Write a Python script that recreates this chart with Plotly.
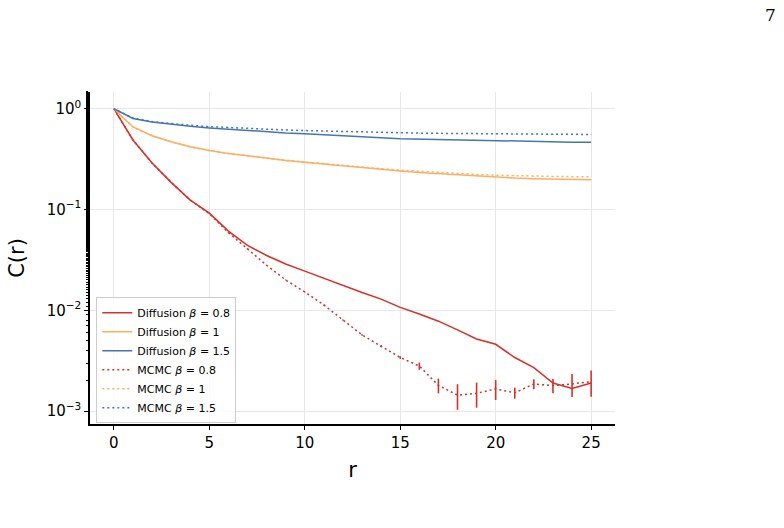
import plotly.graph_objects as go

r = list(range(26))

diff_b08 = [1.0, 0.49, 0.29, 0.186, 0.124, 0.092, 0.061, 0.044, 0.035, 0.0288, 0.0245,
            0.0207, 0.0175, 0.015, 0.0129, 0.0107, 0.0092, 0.0078, 0.0064, 0.0052, 0.0046,
            0.0034, 0.0027, 0.0019, 0.00168, 0.0019]
diff_b1 = [1.0, 0.66, 0.54, 0.47, 0.42, 0.385, 0.36, 0.34, 0.322, 0.307, 0.294, 0.282,
           0.27, 0.26, 0.25, 0.241, 0.233, 0.227, 0.22, 0.214, 0.208, 0.205, 0.202, 0.2,
           0.198, 0.197]
diff_b15 = [1.0, 0.80, 0.74, 0.70, 0.67, 0.645, 0.625, 0.605, 0.59, 0.575, 0.565, 0.55,
            0.54, 0.53, 0.515, 0.505, 0.50, 0.495, 0.49, 0.483, 0.478, 0.474, 0.47, 0.468,
            0.466, 0.464]

mcmc_b08 = [1.0, 0.49, 0.29, 0.186, 0.124, 0.091, 0.059, 0.041, 0.028, 0.020, 0.0152,
            0.0113, 0.008, 0.0057, 0.0044, 0.0034, 0.0028, 0.0018, 0.00144, 0.0015, 0.00166,
            0.00152, 0.00186, 0.00179, 0.00186, 0.00196]
mcmc_b08_err = [0.0, 0.002, 0.0015, 0.001, 0.0008, 0.0006, 0.0005, 0.0004, 0.0003, 0.0002,
                0.00015, 0.00012, 0.0001, 0.0001, 0.0001, 0.0001, 0.00023, 0.0003, 0.00041,
                0.00042, 0.00037, 0.00019, 0.00021, 0.00029, 0.00048, 0.00057]
mcmc_b1 = [1.0, 0.66, 0.54, 0.47, 0.42, 0.385, 0.36, 0.34, 0.323, 0.308, 0.296, 0.284,
           0.273, 0.263, 0.254, 0.246, 0.239, 0.233, 0.228, 0.223, 0.219, 0.216, 0.214,
           0.213, 0.212, 0.211]
mcmc_b1_err = [0.0] + [0.001] * 25
mcmc_b15 = [1.0, 0.81, 0.745, 0.71, 0.685, 0.665, 0.65, 0.635, 0.625, 0.615, 0.607, 0.60,
            0.593, 0.587, 0.582, 0.577, 0.573, 0.57, 0.567, 0.564, 0.562, 0.56, 0.559,
            0.558, 0.557, 0.556]
mcmc_b15_err = [0.0] + [0.002] * 25

x_ticks = [0, 5, 10, 15, 20, 25]
y_tickvals = [1e-3, 1e-2, 1e-1, 1.0]
y_ticktext = ["10<sup>\u22123</sup>", "10<sup>\u22122</sup>", "10<sup>\u22121</sup>", "10<sup>0</sup>"]

RED, ORANGE, BLUE = "#d73027", "#fdae61", "#4575b4"
FONT = "DejaVu Sans"

fig = go.Figure()
for name, ys, col in [("Diffusion <i>\u03b2</i> = 0.8", diff_b08, RED),
                      ("Diffusion <i>\u03b2</i> = 1", diff_b1, ORANGE),
                      ("Diffusion <i>\u03b2</i> = 1.5", diff_b15, BLUE)]:
    fig.add_trace(go.Scatter(x=r, y=ys, mode="lines", name=name,
                             line=dict(color=col, width=1.5)))
for name, ys, err, col in [("MCMC <i>\u03b2</i> = 0.8", mcmc_b08, mcmc_b08_err, RED),
                           ("MCMC <i>\u03b2</i> = 1", mcmc_b1, mcmc_b1_err, ORANGE),
                           ("MCMC <i>\u03b2</i> = 1.5", mcmc_b15, mcmc_b15_err, BLUE)]:
    fig.add_trace(go.Scatter(x=r, y=ys, mode="lines", name=name,
                             line=dict(color=col, width=1.5, dash="2px,3px"),
                             error_y=dict(type="data", array=err, visible=True,
                                          color=col, thickness=1.6, width=0)))

fig.update_layout(
    width=784, height=528,
    margin=dict(l=90, r=169, t=92, b=104),
    paper_bgcolor="white", plot_bgcolor="white",
    font=dict(family=FONT, color="black"),
    showlegend=True,
    legend=dict(x=0.012, y=0.382, xanchor="left", yanchor="top",
                bgcolor="rgba(255,255,255,0.8)", bordercolor="#cccccc", borderwidth=1,
                font=dict(size=11, family=FONT)),
    xaxis=dict(range=[-1.25, 26.25], tickvals=x_ticks, ticks="outside", ticklen=4,
               tickwidth=1, tickcolor="black", showline=True, linecolor="black",
               linewidth=1.5, showgrid=True, gridcolor="#e8e8e8", gridwidth=1.2,
               zeroline=False, tickfont=dict(size=15),
               title=dict(text="r", font=dict(size=21), standoff=12)),
    yaxis=dict(type="log", range=[-3.128, 0.166], tickvals=y_tickvals, ticktext=y_ticktext,
               ticks="outside", ticklen=4, tickwidth=1, tickcolor="black",
               showline=True, linecolor="black", linewidth=1.5, showgrid=True,
               gridcolor="#e8e8e8", gridwidth=1.2, zeroline=False, tickfont=dict(size=15),
               minor=dict(ticks="outside", ticklen=2.5, tickwidth=0.8, tickcolor="black",
                          showgrid=False),
               title=dict(text="C(r)", font=dict(size=21), standoff=16)),
)
fig.add_annotation(text="7", xref="paper", yref="paper", x=(770 - 90) / 525,
                   y=(424 - 15) / 332, showarrow=False, xanchor="center", yanchor="middle",
                   font=dict(family="DejaVu Serif", size=17, color="black"))

fig.write_html("out.html")
